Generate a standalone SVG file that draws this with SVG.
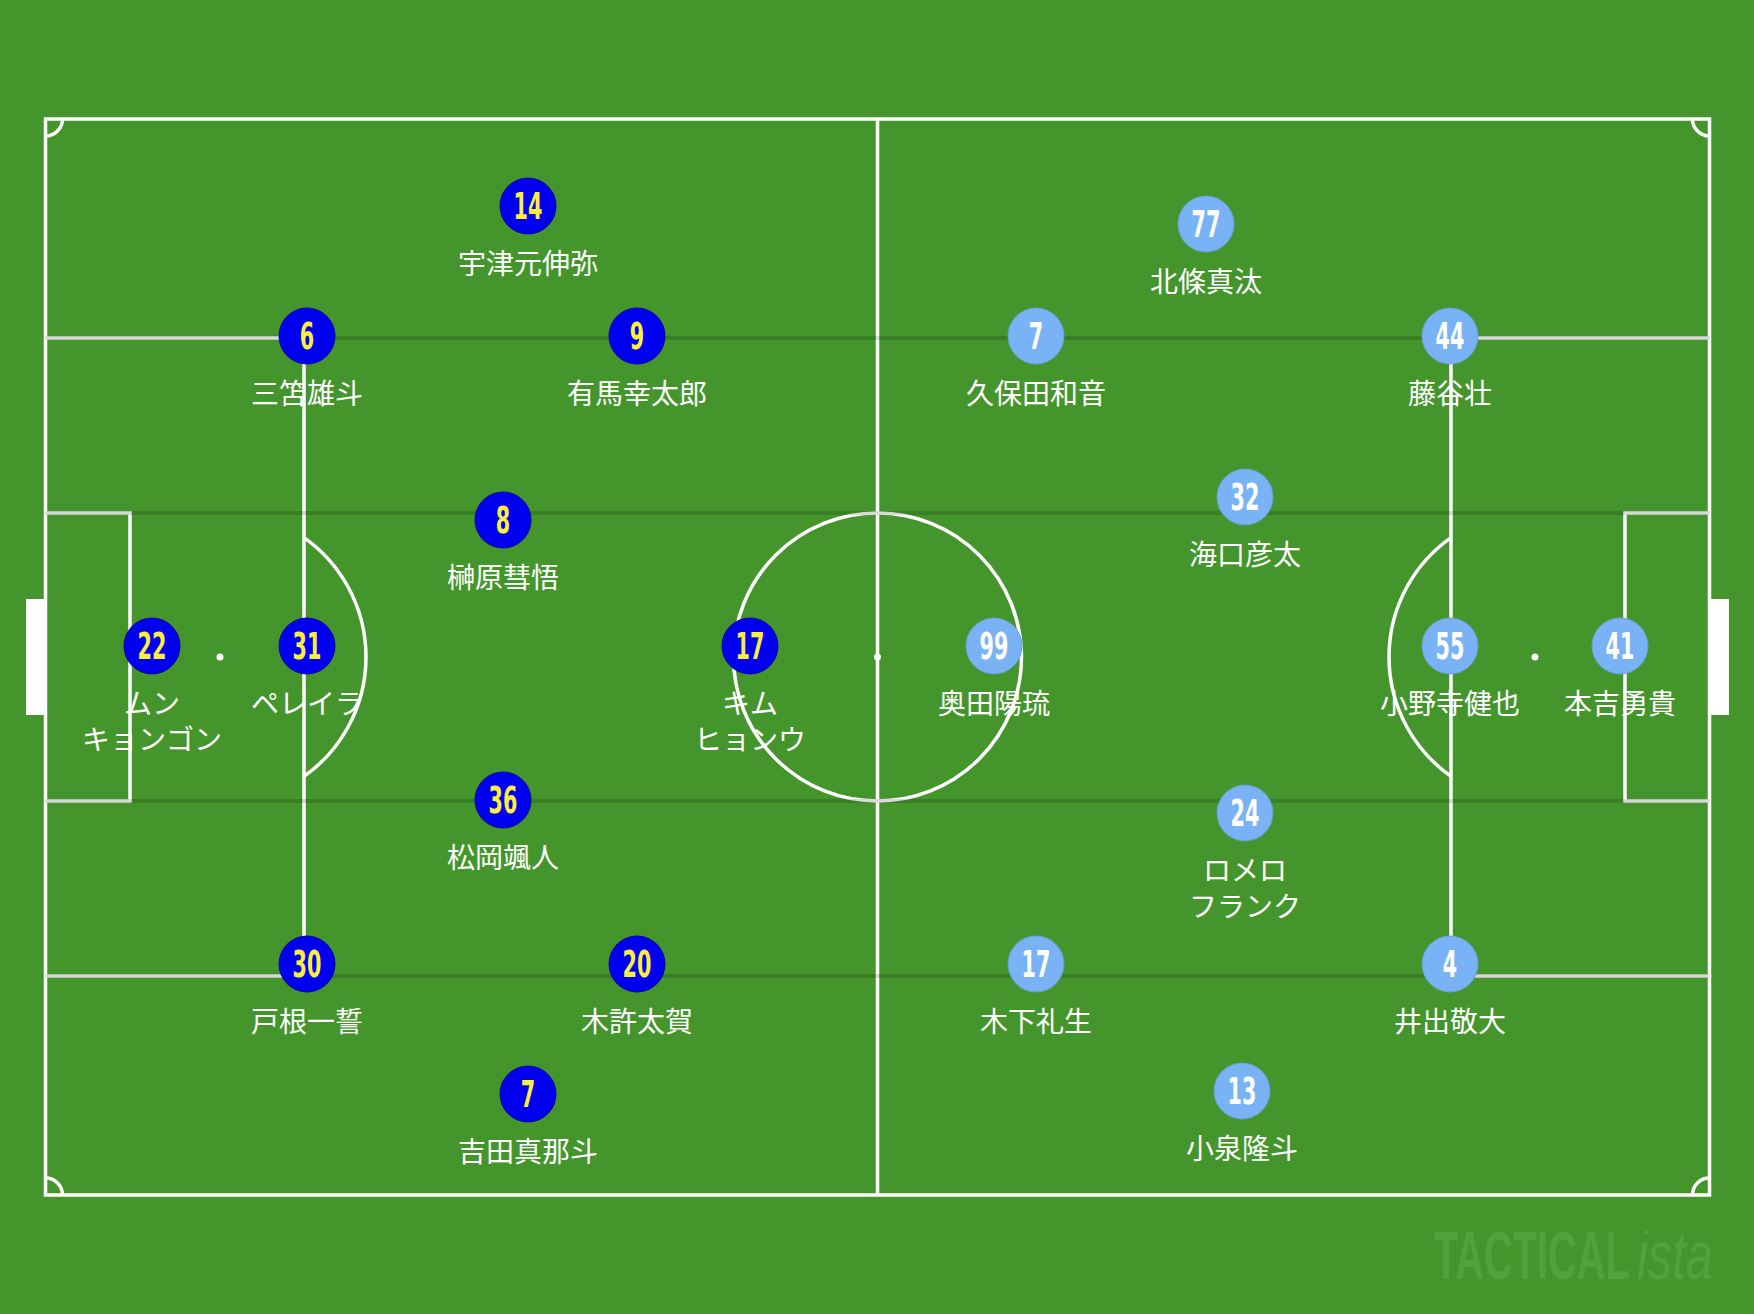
<svg xmlns="http://www.w3.org/2000/svg" width="1754" height="1314" viewBox="0 0 1754 1314">
<style>
.ln{fill:none;stroke:#fff;stroke-width:3.5}
.zone{stroke:#000;stroke-opacity:0.15;stroke-width:4}
.dot{fill:#fff}
.home circle{fill:#0000ee;stroke:#0000a8;stroke-width:1}
.away circle{fill:#79b3f6;stroke:#6a9fd8;stroke-width:1}
.num{font-family:"DejaVu Sans",sans-serif;font-weight:bold;font-size:37px;text-anchor:middle}
.home .num{fill:#fbee3c}
.away .num{fill:#fff}
.lbl{font-family:"Noto Sans CJK JP","Noto Sans",sans-serif;font-size:28px;fill:#fff;text-anchor:middle}
.wm{font-family:"Liberation Sans",sans-serif;font-size:68px;fill:#4fa33a}
</style>
<rect x="0" y="0" width="1754" height="1314" fill="#44962c"/>
<g id="pitch">
<rect class="ln" x="45.5" y="119" width="1664" height="1076"/>
<line class="ln" x1="877.5" y1="119" x2="877.5" y2="1195"/>
<circle class="ln" cx="877.5" cy="657" r="144"/>
<circle class="dot" cx="877.5" cy="657" r="3.5"/>
<path class="ln" d="M45.5,338 H304 V976 H45.5"/>
<path class="ln" d="M45.5,513 H130 V801 H45.5"/>
<circle class="dot" cx="220" cy="657" r="3.5"/>
<path class="ln" d="M304,537.6 A146,146 0 0 1 304,776.4"/>
<rect x="26" y="599" width="19.5" height="116" fill="#fff"/>
<path class="ln" d="M1709.5,338 H1451 V976 H1709.5"/>
<path class="ln" d="M1709.5,513 H1625 V801 H1709.5"/>
<circle class="dot" cx="1535" cy="657" r="3.5"/>
<path class="ln" d="M1451,537.6 A146,146 0 0 0 1451,776.4"/>
<rect x="1709.5" y="599" width="19.5" height="116" fill="#fff"/>
<path class="ln" d="M45.5,136 A17,17 0 0 0 62.5,119"/>
<path class="ln" d="M1692.5,119 A17,17 0 0 0 1709.5,136"/>
<path class="ln" d="M1709.5,1178 A17,17 0 0 0 1692.5,1195"/>
<path class="ln" d="M62.5,1195 A17,17 0 0 0 45.5,1178"/>
<line class="zone" x1="45.5" y1="338" x2="1709.5" y2="338"/>
<line class="zone" x1="45.5" y1="513" x2="1709.5" y2="513"/>
<line class="zone" x1="45.5" y1="801" x2="1709.5" y2="801"/>
<line class="zone" x1="45.5" y1="976" x2="1709.5" y2="976"/>
</g>
<g id="connectors"></g>
<g id="home" class="home">
<g id="h14" transform="translate(528,206)"><circle r="28"/><text class="num" y="13" transform="scale(0.56,1)">14</text><text class="lbl" y="68">宇津元伸弥</text></g>
<g id="h6" transform="translate(307,336)"><circle r="28"/><text class="num" y="13" transform="scale(0.56,1)">6</text><text class="lbl" y="68">三笘雄斗</text></g>
<g id="h9" transform="translate(637,336)"><circle r="28"/><text class="num" y="13" transform="scale(0.56,1)">9</text><text class="lbl" y="68">有馬幸太郎</text></g>
<g id="h8" transform="translate(503,520)"><circle r="28"/><text class="num" y="13" transform="scale(0.56,1)">8</text><text class="lbl" y="68">榊原彗悟</text></g>
<g id="h22" transform="translate(152,646)"><circle r="28"/><text class="num" y="13" transform="scale(0.56,1)">22</text><text class="lbl" y="68">ムン</text><text class="lbl" y="104">キョンゴン</text></g>
<g id="h31" transform="translate(307,646)"><circle r="28"/><text class="num" y="13" transform="scale(0.56,1)">31</text><text class="lbl" y="68">ペレイラ</text></g>
<g id="h17" transform="translate(750,646)"><circle r="28"/><text class="num" y="13" transform="scale(0.56,1)">17</text><text class="lbl" y="68">キム</text><text class="lbl" y="104">ヒョンウ</text></g>
<g id="h36" transform="translate(503,800)"><circle r="28"/><text class="num" y="13" transform="scale(0.56,1)">36</text><text class="lbl" y="68">松岡颯人</text></g>
<g id="h30" transform="translate(307,964)"><circle r="28"/><text class="num" y="13" transform="scale(0.56,1)">30</text><text class="lbl" y="68">戸根一誓</text></g>
<g id="h20" transform="translate(637,964)"><circle r="28"/><text class="num" y="13" transform="scale(0.56,1)">20</text><text class="lbl" y="68">木許太賀</text></g>
<g id="h7" transform="translate(528,1094)"><circle r="28"/><text class="num" y="13" transform="scale(0.56,1)">7</text><text class="lbl" y="68">吉田真那斗</text></g>
</g>
<g id="away" class="away">
<g id="a77" transform="translate(1206,224)"><circle r="28"/><text class="num" y="13" transform="scale(0.56,1)">77</text><text class="lbl" y="68">北條真汰</text></g>
<g id="a7" transform="translate(1036,336)"><circle r="28"/><text class="num" y="13" transform="scale(0.56,1)">7</text><text class="lbl" y="68">久保田和音</text></g>
<g id="a44" transform="translate(1450,336)"><circle r="28"/><text class="num" y="13" transform="scale(0.56,1)">44</text><text class="lbl" y="68">藤谷壮</text></g>
<g id="a32" transform="translate(1245,497)"><circle r="28"/><text class="num" y="13" transform="scale(0.56,1)">32</text><text class="lbl" y="68">海口彦太</text></g>
<g id="a99" transform="translate(994,646)"><circle r="28"/><text class="num" y="13" transform="scale(0.56,1)">99</text><text class="lbl" y="68">奥田陽琉</text></g>
<g id="a55" transform="translate(1450,646)"><circle r="28"/><text class="num" y="13" transform="scale(0.56,1)">55</text><text class="lbl" y="68">小野寺健也</text></g>
<g id="a41" transform="translate(1620,646)"><circle r="28"/><text class="num" y="13" transform="scale(0.56,1)">41</text><text class="lbl" y="68">本吉勇貴</text></g>
<g id="a24" transform="translate(1245,813)"><circle r="28"/><text class="num" y="13" transform="scale(0.56,1)">24</text><text class="lbl" y="68">ロメロ</text><text class="lbl" y="104">フランク</text></g>
<g id="a17" transform="translate(1036,964)"><circle r="28"/><text class="num" y="13" transform="scale(0.56,1)">17</text><text class="lbl" y="68">木下礼生</text></g>
<g id="a4" transform="translate(1450,964)"><circle r="28"/><text class="num" y="13" transform="scale(0.56,1)">4</text><text class="lbl" y="68">井出敬大</text></g>
<g id="a13" transform="translate(1242,1091)"><circle r="28"/><text class="num" y="13" transform="scale(0.56,1)">13</text><text class="lbl" y="68">小泉隆斗</text></g>
</g>
<g id="watermark">
<text class="wm" font-weight="bold" transform="translate(1434,1279) scale(0.585,1)">TACTICAL</text>
<text class="wm" font-style="italic" transform="translate(1637,1279) scale(0.717,1)">ista</text>
</g>
</svg>
